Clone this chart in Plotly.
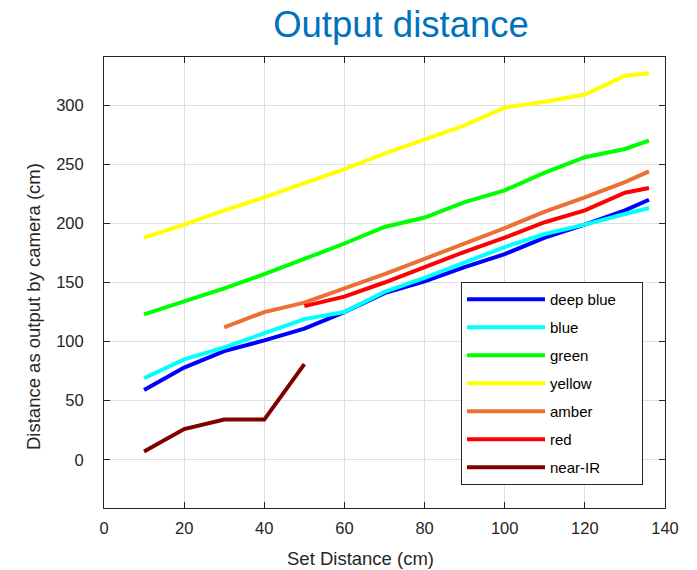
import plotly.graph_objects as go

# ---- data ----
x_full = [10, 20, 30, 40, 50, 60, 70, 80, 90, 100, 110, 120, 130, 136]
deep_blue = [59, 78, 92, 101, 111, 125, 141, 151, 163, 174, 188, 199, 211, 220]
blue = [69, 85, 95, 107, 119, 125, 142, 154, 167, 180, 191, 199, 208, 213]
green = [123, 134, 145, 157, 170, 183, 197, 205, 218, 228, 243, 256, 263, 270]
yellow = [188, 199, 211, 222, 234, 246, 259, 271, 283, 298, 303, 309, 325, 327]

x_amber = [30, 40, 50, 60, 70, 80, 90, 100, 110, 120, 130, 136]
amber = [112, 125, 133, 145, 157, 170, 183, 196, 210, 222, 235, 244]

x_red = [50, 60, 70, 80, 90, 100, 110, 120, 130, 136]
red = [130, 138, 150, 163, 176, 188, 201, 211, 226, 230]

x_nir = [10, 20, 30, 40, 50]
near_ir = [7, 26, 34, 34, 81]

x_ticks = [0, 20, 40, 60, 80, 100, 120, 140]
y_ticks = [0, 50, 100, 150, 200, 250, 300]

names = ["deep blue", "blue", "green", "yellow", "amber", "red", "near-IR"]
colors = ["#0000FF", "#00FFFF", "#00FF00", "#FFFF00", "#EC7033", "#FF0000", "#800000"]
xs_list = [x_full, x_full, x_full, x_full, x_amber, x_red, x_nir]
ys_list = [deep_blue, blue, green, yellow, amber, red, near_ir]

FONT = "Liberation Sans, Arial, Helvetica, sans-serif"
AX = "#262626"
PAD = "\u00a0" * 5  # widens the legend box to the reference width

fig = go.Figure()
for i, (name, xs, ys, col) in enumerate(zip(names, xs_list, ys_list, colors)):
    label = name + PAD if i == 0 else name
    fig.add_trace(go.Scatter(x=xs, y=ys, mode="lines", name=label,
                             legendgroup=name,
                             line=dict(color=col, width=4)))

W, H = 697, 570
ml, mr, mt, mb = 104, 32, 57, 62
pw, ph = W - ml - mr, H - mt - mb

def px2x(px):
    return (px - ml) / pw

def py2y(py):
    return (H - mb - py) / ph

fig.update_layout(
    width=W, height=H,
    margin=dict(l=ml, r=mr, t=mt, b=mb, autoexpand=False),
    paper_bgcolor="white", plot_bgcolor="white",
    font=dict(family=FONT, size=16.5, color=AX),
    title=dict(text="Output distance", x=401 / W, xanchor="center",
               xref="container", yref="container", y=1 - 24.5 / H,
               yanchor="middle",
               font=dict(family=FONT, size=36.5, color="#0072BD")),
    showlegend=True,
    legend=dict(x=px2x(461), y=py2y(282), xanchor="left", yanchor="top",
                bordercolor=AX, borderwidth=1, bgcolor="white",
                font=dict(family=FONT, size=15, color="#000000"),
                tracegroupgap=5.5, itemwidth=78, traceorder="grouped"),
    xaxis=dict(range=[0, 140], tickvals=x_ticks, ticks="inside", ticklen=6,
               tickcolor=AX, tickwidth=1, showline=True, linecolor=AX, linewidth=1,
               mirror="ticks", showgrid=True, gridcolor="#dfdfdf", gridwidth=1,
               zeroline=False, ticklabelstandoff=5,
               tickfont=dict(family=FONT, size=16.5, color=AX)),
    yaxis=dict(range=[-40.8, 340.8], tickvals=y_ticks, ticks="inside", ticklen=6,
               tickcolor=AX, tickwidth=1, showline=True, linecolor=AX, linewidth=1,
               mirror="ticks", showgrid=True, gridcolor="#dfdfdf", gridwidth=1,
               zeroline=False, ticklabelstandoff=16,
               tickfont=dict(family=FONT, size=16.5, color=AX)),
    annotations=[
        dict(text="Set Distance (cm)", xref="paper", yref="paper",
             x=px2x(360), y=py2y(558), xanchor="center", yanchor="middle",
             showarrow=False, font=dict(family=FONT, size=18.5, color=AX)),
        dict(text="Distance as output by camera (cm)", xref="paper", yref="paper",
             x=px2x(33), y=py2y(307), xanchor="center", yanchor="middle",
             textangle=-90, showarrow=False,
             font=dict(family=FONT, size=18.5, color=AX)),
    ],
)

# remove the browser's default 8px body margin so the figure fills the window
fig.write_html("out.html", config={"displayModeBar": False},
               post_script="document.body.style.margin='0px';")
